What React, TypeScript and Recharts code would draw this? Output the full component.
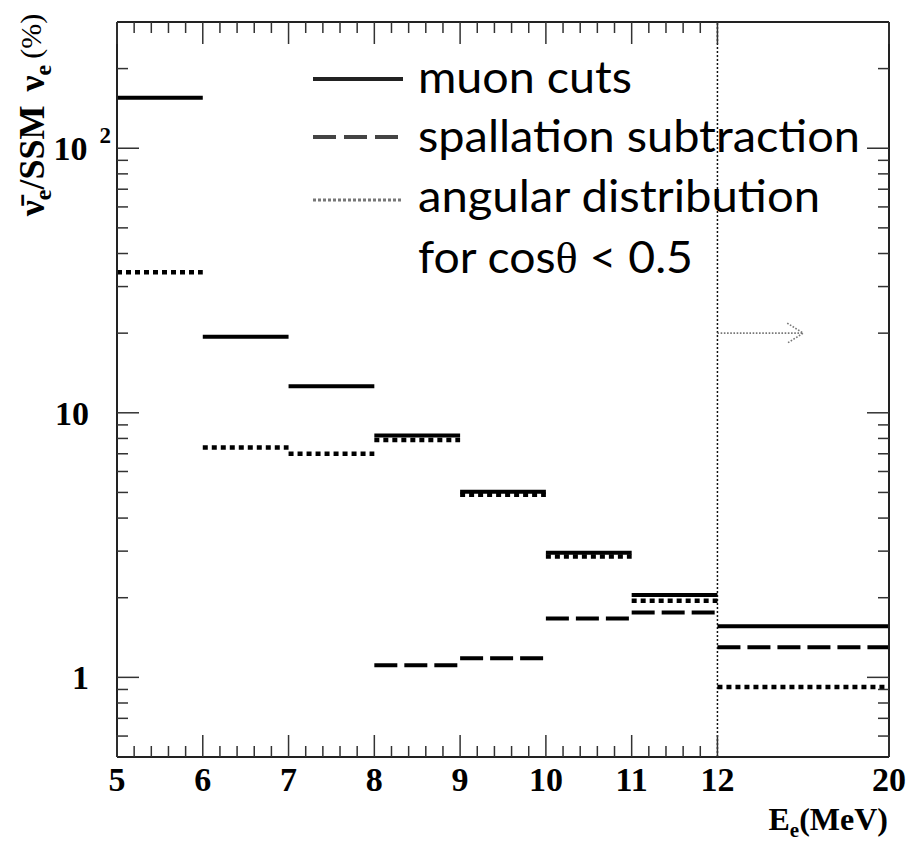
import React from 'react';
import { ComposedChart, Line, XAxis, YAxis, ReferenceLine } from 'recharts';

// ---- data ----
const binEdges = [5, 6, 7, 8, 9, 10, 11, 12, 20];
const xTickLabels = ['5', '6', '7', '8', '9', '10', '11', '12', '20'];
const muonCuts = [155, 19.4, 12.6, 8.2, 5.03, 2.96, 2.05, 1.56];
const spallation = [null, null, null, 1.11, 1.18, 1.67, 1.76, 1.3];
const angular = [34, 7.4, 7.0, 7.9, 4.9, 2.86, 1.95, 0.92];
const seriesNames = ['muon cuts', 'spallation subtraction', 'angular distribution'];
const legendExtraLine = 'for cos\u03B8 < 0.5';
const yDecades = [1, 10, 100];
const yDomain = [0.5, 300];
const arrowLevel = 20;
const arrowStartE = 12;
const arrowEndE = 16;
const breakE = 12;

// broken x scale: 5..12 linear, 12..20 compressed to 2 units
const pos = (e: number) => (e <= breakE ? e : breakE + (e - breakE) / 4);

const majorPos = binEdges.map(pos);
const minorPos: number[] = [];
for (let i = 0; i < binEdges.length - 2; i++) {
  for (let k = 1; k <= 4; k++) minorPos.push(binEdges[i] + k * 0.2);
}
const xTicks = [...majorPos, ...minorPos].sort((a, b) => a - b);
const xDomain = [majorPos[0], majorPos[majorPos.length - 1]];

const yMinor: number[] = [];
[0.1, 1, 10, 100].forEach((d) => {
  for (let m = 2; m <= 9; m++) {
    const v = +(d * m).toPrecision(3);
    if (v > yDomain[0] && v < yDomain[1]) yMinor.push(v);
  }
});
const yTicks = [...yDecades, ...yMinor].sort((a, b) => a - b);

const stepData = (vals: (number | null)[]) => {
  const out: { x: number; y: number | null }[] = [];
  vals.forEach((v, i) => {
    if (v == null) return;
    out.push({ x: pos(binEdges[i]), y: v });
    out.push({ x: pos(binEdges[i + 1]), y: v });
    out.push({ x: pos(binEdges[i + 1]), y: null });
  });
  return out;
};

const muonData = stepData(muonCuts);
const spallData = stepData(spallation);
const angData = stepData(angular);

const W = 911;
const H = 843;
const MARGIN = { top: 22, right: 21, bottom: 36, left: 37 };
const Y_AXIS_W = 80;
const R_AXIS_W = 1;
const PLOT_L = MARGIN.left + Y_AXIS_W;
const PLOT_R = W - MARGIN.right - R_AXIS_W;
const SERIF = '"Liberation Serif", "Times New Roman", serif';
const SANS = 'Lato, "Open Sans", sans-serif';
const TICK = '#333';
const MAJ = 22;
const MIN = 11;

const isMajorX = (v: number) => majorPos.findIndex((p) => Math.abs(p - v) < 1e-6);

const XTick = (props: any) => {
  const { x, y, payload } = props;
  const idx = isMajorX(payload.value);
  const len = idx >= 0 ? MAJ : MIN;
  return (
    <g>
      <line x1={x} x2={x} y1={y} y2={y - len} stroke={TICK} strokeWidth={1.5} />
      {idx >= 0 && (
        <text x={x} y={y + 34} textAnchor="middle" fontFamily={SERIF} fontWeight="bold" fontSize={34} fill="#000">
          {xTickLabels[idx]}
        </text>
      )}
    </g>
  );
};

const YTick = (props: any) => {
  const { x, y, payload, side } = props;
  const v = payload.value;
  const major = yDecades.some((d) => Math.abs(d - v) < 1e-9);
  const len = major ? MAJ : MIN;
  const dir = side === 'left' ? 1 : -1;
  let label: React.ReactNode = null;
  if (side === 'left' && major) {
    if (v >= 100) {
      const exp = Math.round(Math.log10(v));
      label = (
        <text x={x - 6} y={y + 12} textAnchor="end" fontFamily={SERIF} fontWeight="bold" fontSize={34} fill="#000">
          10
          <tspan dx={12} dy={-17} fontSize={23}>
            {exp}
          </tspan>
        </text>
      );
    } else {
      label = (
        <text x={x - 28} y={y + 12} textAnchor="end" fontFamily={SERIF} fontWeight="bold" fontSize={34} fill="#000">
          {String(v)}
        </text>
      );
    }
  }
  return (
    <g>
      <line x1={x} x2={x + dir * len} y1={y} y2={y} stroke={TICK} strokeWidth={1.5} />
      {label}
    </g>
  );
};

const ArrowShape = (p: any) => {
  const { x1, y1, x2, y2 } = p;
  return (
    <g stroke="#777" strokeWidth={1.6} strokeDasharray="1.6 1.6" fill="none">
      <line x1={x1} y1={y1} x2={x2} y2={y2} />
      <polyline points={`${x2 - 16},${y2 - 10} ${x2},${y2} ${x2 - 16},${y2 + 10}`} />
    </g>
  );
};

const legendStyles = [
  { stroke: '#222', dash: undefined as string | undefined, width: 4 },
  { stroke: '#444', dash: '23 8', width: 4 },
  { stroke: '#777', dash: '3 2', width: 3 },
];

const Overlay = () => {
  const sampleX1 = 313;
  const sampleX2 = 403;
  const textX = 418;
  const sampleY = [79, 137, 200];
  const baselines = [93, 152, 212, 273];
  const textLens = [214, 442, 402, 275];
  const lines = [...seriesNames, legendExtraLine];
  const tx = (v: number) => PLOT_L + ((v - xDomain[0]) / (xDomain[1] - xDomain[0])) * (PLOT_R - PLOT_L);
  return (
    <svg width={W} height={H} style={{ position: 'absolute', left: 0, top: 0, pointerEvents: 'none' }}>
      {/* mirrored top-frame ticks */}
      {xTicks.map((v) => {
        const len = isMajorX(v) >= 0 ? MAJ : MIN;
        return (
          <line
            key={'tt' + v}
            x1={tx(v)}
            x2={tx(v)}
            y1={MARGIN.top}
            y2={MARGIN.top + len}
            stroke={TICK}
            strokeWidth={1.5}
          />
        );
      })}
      {legendStyles.map((s, i) => (
        <line
          key={'s' + i}
          x1={sampleX1}
          x2={sampleX2}
          y1={sampleY[i]}
          y2={sampleY[i]}
          stroke={s.stroke}
          strokeWidth={s.width}
          strokeDasharray={s.dash}
        />
      ))}
      {lines.map((t, i) => (
        <text
          key={'t' + i}
          x={textX}
          y={baselines[i]}
          fontFamily={SANS}
          fontSize={45}
          fill="#000"
          textLength={textLens[i]}
          lengthAdjust="spacingAndGlyphs"
        >
          {i === 3 ? (
            <>
              for cos<tspan fontFamily={SERIF}>{'\u03B8'}</tspan> {'< 0.5'}
            </>
          ) : (
            t
          )}
        </text>
      ))}
      {/* axis titles */}
      <text
        transform="rotate(-90)"
        x={-115}
        y={44}
        textAnchor="middle"
        fontFamily={SERIF}
        fontWeight="bold"
        fontSize={36}
        fill="#000"
      >
        {'\u03BD\u0304'}
        <tspan fontSize={24} dy={7}>e</tspan>
        <tspan dy={-7}>/SSM</tspan>
        <tspan dx={14}>{'\u03BD'}</tspan>
        <tspan fontSize={24} dy={7}>e</tspan>
        <tspan fontSize={30} dy={-10} fontWeight="normal" dx={6}>(%)</tspan>
      </text>
      <text x={888} y={830} textAnchor="end" fontFamily={SERIF} fontWeight="bold" fontSize={32} fill="#000">
        E
        <tspan fontSize={21} dy={7}>e</tspan>
        <tspan dy={-7}>(MeV)</tspan>
      </text>
    </svg>
  );
};

export default function App() {
  return (
    <div style={{ position: 'absolute', left: 0, top: 0, width: W, height: H, background: '#fff' }}>
      <ComposedChart width={W} height={H} margin={MARGIN}>
        <XAxis
          xAxisId="b"
          type="number"
          dataKey="x"
          domain={xDomain}
          allowDataOverflow
          ticks={xTicks}
          interval={0}
          tickLine={false}
          tickSize={0}
          tickMargin={0}
          height={50}
          axisLine={{ stroke: '#222', strokeWidth: 2 }}
          tick={(p: any) => <XTick {...p} />}
        />
        <YAxis
          yAxisId="l"
          type="number"
          scale="log"
          domain={yDomain}
          allowDataOverflow
          ticks={yTicks}
          interval={0}
          tickLine={false}
          tickSize={0}
          tickMargin={0}
          width={Y_AXIS_W}
          axisLine={{ stroke: '#222', strokeWidth: 2 }}
          tick={(p: any) => <YTick {...p} side="left" />}
        />
        <YAxis
          yAxisId="r"
          orientation="right"
          type="number"
          scale="log"
          domain={yDomain}
          allowDataOverflow
          ticks={yTicks}
          interval={0}
          tickLine={false}
          tickSize={0}
          tickMargin={0}
          width={R_AXIS_W}
          axisLine={{ stroke: '#222', strokeWidth: 2 }}
          tick={(p: any) => <YTick {...p} side="right" />}
        />
        {/* top frame */}
        <ReferenceLine xAxisId="b" yAxisId="l" y={yDomain[1]} ifOverflow="visible" stroke="#222" strokeWidth={2} />
        <ReferenceLine
          xAxisId="b"
          yAxisId="l"
          x={pos(breakE)}
          stroke="#111"
          strokeWidth={1.5}
          strokeDasharray="2 2"
        />
        <ReferenceLine
          xAxisId="b"
          yAxisId="l"
          segment={[
            { x: pos(arrowStartE), y: arrowLevel },
            { x: pos(arrowEndE), y: arrowLevel },
          ]}
          shape={ArrowShape}
        />
        <Line
          xAxisId="b"
          yAxisId="l"
          data={angData}
          dataKey="y"
          name={seriesNames[2]}
          stroke="#000"
          strokeWidth={4.5}
          strokeDasharray="5 4"
          dot={false}
          activeDot={false}
          connectNulls={false}
          isAnimationActive={false}
          type="linear"
        />
        <Line
          xAxisId="b"
          yAxisId="l"
          data={spallData}
          dataKey="y"
          name={seriesNames[1]}
          stroke="#000"
          strokeWidth={4}
          strokeDasharray="23 7"
          dot={false}
          activeDot={false}
          connectNulls={false}
          isAnimationActive={false}
          type="linear"
        />
        <Line
          xAxisId="b"
          yAxisId="l"
          data={muonData}
          dataKey="y"
          name={seriesNames[0]}
          stroke="#000"
          strokeWidth={4}
          dot={false}
          activeDot={false}
          connectNulls={false}
          isAnimationActive={false}
          type="linear"
        />
      </ComposedChart>
      <Overlay />
    </div>
  );
}
